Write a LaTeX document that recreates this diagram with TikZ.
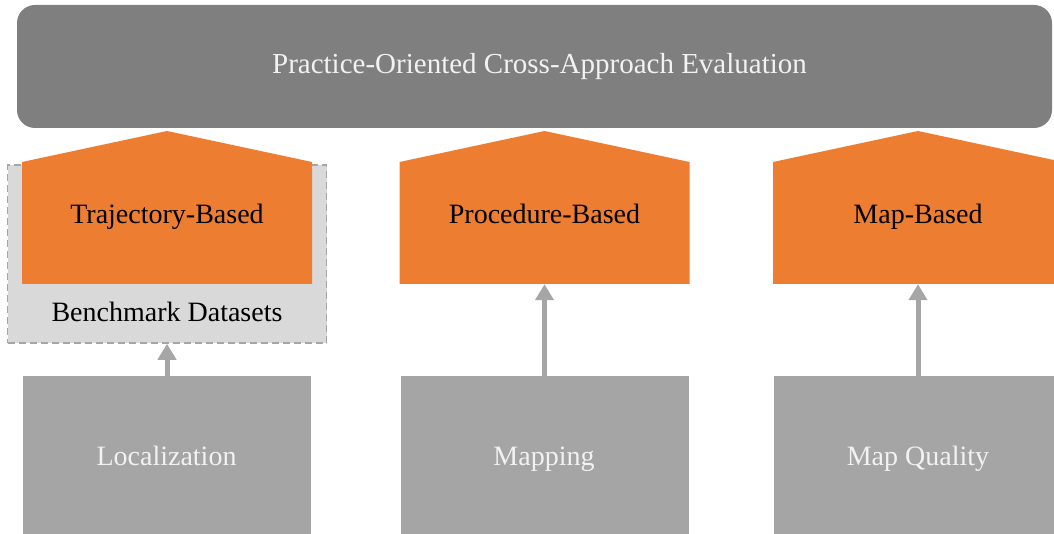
\documentclass[tikz,border=0pt]{standalone}
\usepackage{fontspec}
\setmainfont{Liberation Serif}
\usetikzlibrary{arrows.meta}
\definecolor{topgray}{HTML}{7F7F7F}
\definecolor{orng}{HTML}{ED7D31}
\definecolor{botgray}{HTML}{A5A5A5}
\definecolor{lightgray}{HTML}{D9D9D9}
\definecolor{arrgray}{HTML}{A6A6A6}
\definecolor{txtwhite}{HTML}{F2F2F2}
\tikzset{
  txt/.style={font=\fontsize{28}{32}\selectfont, inner sep=0pt, anchor=base},
  bodybox/.style={minimum width=290pt, minimum height=122pt, inner sep=0pt},
  botbox/.style={fill=botgray, minimum width=288pt, minimum height=170pt, inner sep=0pt},
  conn/.style={draw=arrgray, line width=5pt, -{Triangle[width=18pt,length=16pt]}},
}
\begin{document}
\begin{tikzpicture}[x=1pt,y=-1pt]
\useasboundingbox (0,0) rectangle (1054,534);
\clip (0,0) rectangle (1054,534);
% top bar
\node[fill=topgray, rounded corners=18pt, minimum width=1035pt, minimum height=123pt, inner sep=0pt] (top) at (534.5,66.5) {};
\node[txt, text=txtwhite, font=\fontsize{29}{33}\selectfont] (toptxt) at (539.5,74) {Practice-Oriented Cross-Approach Evaluation};
% benchmark dashed box
\node[fill=lightgray, draw=arrgray, line width=1.5pt, dash pattern=on 7pt off 4pt, minimum width=319pt, minimum height=178pt, inner sep=0pt] (bench) at (167,254) {};
\node[txt] (benchtxt) at (167,322) {Benchmark Datasets};
% pentagons
\foreach \cx/\nm/\lbl in {167/tb/Trajectory-Based, 544.5/pb/Procedure-Based, 918/mb/Map-Based}{
  \fill[orng] (\cx-145,162) -- (\cx,131) -- (\cx+145,162) -- (\cx+145,284) -- (\cx-145,284) -- cycle;
  \node[bodybox] (\nm) at (\cx,223) {};
  \node[txt] at (\cx,224) {\lbl};
}
% bottom boxes
\node[botbox] (loc) at (167,461) {};
\node[txt, text=txtwhite] (loctxt) at (166.5,465) {Localization};
\node[botbox] (map) at (544.5,461) {};
\node[txt, text=txtwhite] (maptxt) at (544,465) {Mapping};
\node[botbox] (mq) at (918,461) {};
\node[txt, text=txtwhite] (mqtxt) at (918,465) {Map Quality};
% connectors
\draw[conn] (loc.north) -- (bench.south);
\draw[conn] (map.north) -- (pb.south);
\draw[conn] (mq.north) -- (mb.south);
\end{tikzpicture}
\end{document}
